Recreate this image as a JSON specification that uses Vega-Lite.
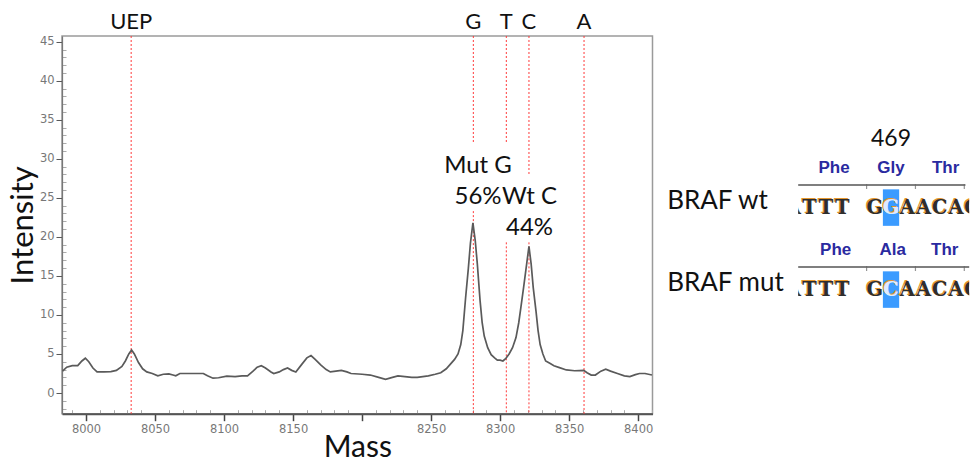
{
  "$schema": "https://vega.github.io/schema/vega-lite/v6.json",
  "background": "white",
  "padding": {"left": 6, "top": 10, "right": 0, "bottom": 0},
  "config": {"view": {"stroke": null}, "font": "Lato"},
  "spacing": 145.2,
  "bounds": "flush",
  "datasets": {
    "trace": [
      {"mass": 7983, "intensity": 2.8}, {"mass": 7986, "intensity": 3.3}, {"mass": 7990, "intensity": 3.5},
      {"mass": 7994, "intensity": 3.5}, {"mass": 7997, "intensity": 4.1}, {"mass": 7999.5, "intensity": 4.45},
      {"mass": 8002, "intensity": 4.0}, {"mass": 8005, "intensity": 3.2}, {"mass": 8008, "intensity": 2.7},
      {"mass": 8013, "intensity": 2.7}, {"mass": 8018, "intensity": 2.75}, {"mass": 8022, "intensity": 2.9},
      {"mass": 8026, "intensity": 3.4}, {"mass": 8028.5, "intensity": 4.1}, {"mass": 8031, "intensity": 5.0},
      {"mass": 8033, "intensity": 5.5}, {"mass": 8035, "intensity": 5.0}, {"mass": 8038, "intensity": 3.9},
      {"mass": 8041, "intensity": 3.1}, {"mass": 8044, "intensity": 2.7}, {"mass": 8048, "intensity": 2.5},
      {"mass": 8052, "intensity": 2.2}, {"mass": 8056, "intensity": 2.4}, {"mass": 8060, "intensity": 2.45},
      {"mass": 8063, "intensity": 2.3}, {"mass": 8065, "intensity": 2.2}, {"mass": 8068, "intensity": 2.5},
      {"mass": 8074, "intensity": 2.5}, {"mass": 8080, "intensity": 2.5}, {"mass": 8085, "intensity": 2.5},
      {"mass": 8088, "intensity": 2.2}, {"mass": 8092, "intensity": 1.9}, {"mass": 8096, "intensity": 1.95},
      {"mass": 8102, "intensity": 2.15}, {"mass": 8108, "intensity": 2.1}, {"mass": 8113, "intensity": 2.2},
      {"mass": 8117, "intensity": 2.2}, {"mass": 8121, "intensity": 2.8}, {"mass": 8124, "intensity": 3.3},
      {"mass": 8127, "intensity": 3.5}, {"mass": 8130, "intensity": 3.2}, {"mass": 8134, "intensity": 2.7},
      {"mass": 8136, "intensity": 2.5}, {"mass": 8140, "intensity": 2.7}, {"mass": 8143, "intensity": 3.0},
      {"mass": 8146, "intensity": 3.2}, {"mass": 8149, "intensity": 2.9}, {"mass": 8152, "intensity": 2.7},
      {"mass": 8156, "intensity": 3.6}, {"mass": 8160, "intensity": 4.5}, {"mass": 8163, "intensity": 4.8},
      {"mass": 8166, "intensity": 4.3}, {"mass": 8170, "intensity": 3.6}, {"mass": 8174, "intensity": 3.0},
      {"mass": 8177, "intensity": 2.7}, {"mass": 8181, "intensity": 2.8}, {"mass": 8185, "intensity": 2.9},
      {"mass": 8189, "intensity": 2.7}, {"mass": 8192, "intensity": 2.5}, {"mass": 8200, "intensity": 2.4},
      {"mass": 8206, "intensity": 2.3}, {"mass": 8212, "intensity": 2.0}, {"mass": 8217, "intensity": 1.75},
      {"mass": 8222, "intensity": 2.0}, {"mass": 8226, "intensity": 2.2}, {"mass": 8231, "intensity": 2.1},
      {"mass": 8236, "intensity": 2.0}, {"mass": 8240, "intensity": 2.0}, {"mass": 8244, "intensity": 2.1},
      {"mass": 8248, "intensity": 2.2}, {"mass": 8253, "intensity": 2.4}, {"mass": 8257, "intensity": 2.6},
      {"mass": 8261, "intensity": 3.1}, {"mass": 8264, "intensity": 3.7}, {"mass": 8267, "intensity": 4.3},
      {"mass": 8269.5, "intensity": 5.0}, {"mass": 8271.5, "intensity": 6.2}, {"mass": 8273, "intensity": 8.0},
      {"mass": 8275, "intensity": 12.2}, {"mass": 8277, "intensity": 16.0}, {"mass": 8278.5, "intensity": 19.2},
      {"mass": 8280.3, "intensity": 21.8}, {"mass": 8282, "intensity": 19.5}, {"mass": 8283.5, "intensity": 16.5},
      {"mass": 8285.5, "intensity": 11.8}, {"mass": 8287, "intensity": 9.0}, {"mass": 8288.5, "intensity": 7.3},
      {"mass": 8291, "intensity": 5.8}, {"mass": 8293.5, "intensity": 4.9}, {"mass": 8296, "intensity": 4.5},
      {"mass": 8298, "intensity": 4.2}, {"mass": 8300, "intensity": 4.2}, {"mass": 8302, "intensity": 4.1},
      {"mass": 8304, "intensity": 4.4}, {"mass": 8306.5, "intensity": 5.0}, {"mass": 8309, "intensity": 5.8},
      {"mass": 8311.5, "intensity": 7.1}, {"mass": 8313.5, "intensity": 9.0}, {"mass": 8315, "intensity": 10.9},
      {"mass": 8317, "intensity": 13.5}, {"mass": 8318.7, "intensity": 15.8}, {"mass": 8320.9, "intensity": 18.8},
      {"mass": 8322.5, "intensity": 16.5}, {"mass": 8324, "intensity": 13.5}, {"mass": 8326, "intensity": 10.5},
      {"mass": 8327.5, "intensity": 8.0}, {"mass": 8329, "intensity": 6.2}, {"mass": 8331, "intensity": 5.0},
      {"mass": 8333, "intensity": 4.1}, {"mass": 8336, "intensity": 3.8}, {"mass": 8339, "intensity": 3.5},
      {"mass": 8343, "intensity": 3.25}, {"mass": 8348, "intensity": 2.95}, {"mass": 8354, "intensity": 2.85},
      {"mass": 8360.6, "intensity": 2.9}, {"mass": 8363, "intensity": 2.6}, {"mass": 8366, "intensity": 2.3},
      {"mass": 8369, "intensity": 2.3}, {"mass": 8373, "intensity": 2.8}, {"mass": 8376.5, "intensity": 3.05},
      {"mass": 8380, "intensity": 2.8}, {"mass": 8385, "intensity": 2.5}, {"mass": 8390, "intensity": 2.2},
      {"mass": 8394, "intensity": 2.1}, {"mass": 8398, "intensity": 2.35}, {"mass": 8401, "intensity": 2.5},
      {"mass": 8405, "intensity": 2.5}, {"mass": 8410, "intensity": 2.3}
    ],
    "markerSegments": [
      {"mass": 8032.7, "top": 45.73, "bottom": -2.65},
      {"mass": 8280.6, "top": 45.73, "bottom": 31.9},
      {"mass": 8280.6, "top": 23.3, "bottom": -2.65},
      {"mass": 8304.5, "top": 45.73, "bottom": 31.9},
      {"mass": 8304.5, "top": 19.3, "bottom": -2.65},
      {"mass": 8320.9, "top": 45.73, "bottom": 28.0},
      {"mass": 8320.9, "top": 19.3, "bottom": -2.65},
      {"mass": 8360.8, "top": 45.73, "bottom": -2.65}
    ],
    "markerNames": [
      {"mass": 8032.7, "name": "UEP"},
      {"mass": 8280.6, "name": "G"},
      {"mass": 8304.5, "name": "T"},
      {"mass": 8320.9, "name": "C"},
      {"mass": 8360.8, "name": "A"}
    ],
    "peakNotes": [
      {"mass": 8284.0, "intensity": 28.24, "note": ["Mut G", "56%"]},
      {"mass": 8321.3, "intensity": 24.27, "note": ["Wt C", "44%"]}
    ],
    "codons": [
      {"row": "wt", "center": 2.5, "aa": "Phe", "number": ""},
      {"row": "wt", "center": 6.0, "aa": "Gly", "number": "469"},
      {"row": "wt", "center": 9.35, "aa": "Thr", "number": ""},
      {"row": "mut", "center": 2.6, "aa": "Phe", "number": ""},
      {"row": "mut", "center": 6.1, "aa": "Ala", "number": ""},
      {"row": "mut", "center": 9.3, "aa": "Thr", "number": ""}
    ],
    "tracks": [
      {"row": "wt", "name": "BRAF wt", "from": 0.3, "to": 10.57},
      {"row": "mut", "name": "BRAF mut", "from": 0.3, "to": 10.8}
    ],
    "boundaries": [
      {"row": "wt", "pos": 4.5}, {"row": "wt", "pos": 7.5}, {"row": "wt", "pos": 10.5},
      {"row": "mut", "pos": 4.5}, {"row": "mut", "pos": 7.5}, {"row": "mut", "pos": 10.5}
    ],
    "variant": [
      {"row": "wt", "from": 5.5, "to": 6.5},
      {"row": "mut", "from": 5.5, "to": 6.5}
    ],
    "bases": [
      {"row": "wt", "pos": 0, "base": "A", "hl": false},
      {"row": "wt", "pos": 1, "base": "T", "hl": false},
      {"row": "wt", "pos": 2, "base": "T", "hl": false},
      {"row": "wt", "pos": 3, "base": "T", "hl": false},
      {"row": "wt", "pos": 5, "base": "G", "hl": false},
      {"row": "wt", "pos": 6, "base": "G", "hl": true},
      {"row": "wt", "pos": 7, "base": "A", "hl": false},
      {"row": "wt", "pos": 8, "base": "A", "hl": false},
      {"row": "wt", "pos": 9, "base": "C", "hl": false},
      {"row": "wt", "pos": 10, "base": "A", "hl": false},
      {"row": "wt", "pos": 11, "base": "G", "hl": false},
      {"row": "mut", "pos": 0, "base": "A", "hl": false},
      {"row": "mut", "pos": 1, "base": "T", "hl": false},
      {"row": "mut", "pos": 2, "base": "T", "hl": false},
      {"row": "mut", "pos": 3, "base": "T", "hl": false},
      {"row": "mut", "pos": 5, "base": "G", "hl": false},
      {"row": "mut", "pos": 6, "base": "C", "hl": true},
      {"row": "mut", "pos": 7, "base": "A", "hl": false},
      {"row": "mut", "pos": 8, "base": "A", "hl": false},
      {"row": "mut", "pos": 9, "base": "C", "hl": false},
      {"row": "mut", "pos": 10, "base": "A", "hl": false},
      {"row": "mut", "pos": 11, "base": "G", "hl": false}
    ]
  },
  "hconcat": [
    {
      "width": 590.5,
      "height": 377.7,
      "view": {"stroke": "#9a9a9a", "strokeWidth": 1.5},
      "layer": [
        {
          "data": {"name": "markerSegments"},
          "mark": {"type": "rule", "color": "#ff3838", "strokeDash": [2, 2], "strokeWidth": 1},
          "encoding": {
            "x": {
              "field": "mass", "type": "quantitative", "title": "Mass",
              "scale": {"domain": [7982.6, 8410.4], "nice": false, "zero": false},
              "axis": {
                "values": [7990, 8000, 8010, 8020, 8030, 8040, 8050, 8060, 8070, 8080, 8090, 8100, 8110, 8120, 8130, 8140, 8150, 8160, 8170, 8180, 8190, 8200, 8210, 8220, 8230, 8240, 8250, 8260, 8270, 8280, 8290, 8300, 8310, 8320, 8330, 8340, 8350, 8360, 8370, 8380, 8390, 8400, 8410],
                "tickCount": 1000,
                "labelExpr": "datum.value % 50 === 0 && datum.value !== 8200 ? datum.value : ''",
                "tickSize": {"condition": {"test": "datum.value % 50 === 0", "value": 7}, "value": -4},
                "tickColor": {"condition": {"test": "datum.value % 50 === 0", "value": "#444"}, "value": "#aaa"},
                "tickWidth": {"condition": {"test": "datum.value % 50 === 0", "value": 1.5}, "value": 1},
                "grid": false,
                "domainColor": "#555", "domainWidth": 2,
                "labelFont": "DejaVu Sans", "labelFontSize": 11.5, "labelColor": "#777",
                "labelPadding": 3, "labelOverlap": false, "labelFlush": false,
                "titleFont": "Lato", "titleFontSize": 30, "titleFontWeight": "normal",
                "titleColor": "#111", "titlePadding": -3
              }
            },
            "y": {
              "field": "top", "type": "quantitative", "title": "Intensity",
              "scale": {"domain": [-2.65, 45.73], "nice": false, "zero": false},
              "axis": {
                "values": [-2, -1, 0, 1, 2, 3, 4, 5, 6, 7, 8, 9, 10, 11, 12, 13, 14, 15, 16, 17, 18, 19, 20, 21, 22, 23, 24, 25, 26, 27, 28, 29, 30, 31, 32, 33, 34, 35, 36, 37, 38, 39, 40, 41, 42, 43, 44, 45],
                "tickCount": 1000,
                "labelExpr": "datum.value % 5 === 0 ? datum.value : ''",
                "tickSize": {"condition": {"test": "datum.value % 5 === 0", "value": 6}, "value": -4},
                "tickColor": {"condition": {"test": "datum.value % 5 === 0", "value": "#555"}, "value": "#aaa"},
                "grid": false,
                "domainColor": "#777", "domainWidth": 1.2,
                "labelFont": "DejaVu Sans", "labelFontSize": 11.5, "labelColor": "#777",
                "labelPadding": 2, "labelOverlap": false, "labelFlush": false,
                "titleFont": "Lato", "titleFontSize": 31, "titleFontWeight": "normal",
                "titleColor": "#111", "titlePadding": 0
              }
            },
            "y2": {"field": "bottom"}
          }
        },
        {
          "data": {"name": "trace"},
          "mark": {"type": "line", "color": "#5a5a5a", "strokeWidth": 1.7},
          "encoding": {
            "x": {"field": "mass", "type": "quantitative"},
            "y": {"field": "intensity", "type": "quantitative"}
          }
        },
        {
          "data": {"name": "markerNames"},
          "mark": {"type": "text", "font": "Lato", "fontSize": 22, "color": "#111", "baseline": "alphabetic", "dy": -7},
          "encoding": {
            "x": {"field": "mass", "type": "quantitative"},
            "y": {"datum": 45.73, "type": "quantitative"},
            "text": {"field": "name"}
          }
        },
        {
          "data": {"name": "peakNotes"},
          "mark": {"type": "text", "font": "Lato", "fontSize": 24, "color": "#111", "baseline": "alphabetic", "lineHeight": 31},
          "encoding": {
            "x": {"field": "mass", "type": "quantitative"},
            "y": {"field": "intensity", "type": "quantitative"},
            "text": {"field": "note"}
          }
        }
      ]
    },
    {
      "width": 171,
      "height": 377.7,
      "encoding": {
        "y": {
          "field": "row", "type": "nominal",
          "scale": {"type": "point", "domain": ["wt", "mut"], "range": [149, 231], "padding": 0},
          "axis": null
        }
      },
      "layer": [
        {
          "data": {"name": "variant"},
          "mark": {"type": "bar", "color": "#3b9bff", "size": 36.5, "yOffset": 22.6},
          "encoding": {
            "x": {"field": "from", "type": "quantitative", "scale": {"domain": [0.3, 10.8], "nice": false, "zero": false}, "axis": null},
            "x2": {"field": "to"}
          }
        },
        {
          "data": {"name": "tracks"},
          "mark": {"type": "rule", "color": "#555", "strokeWidth": 1.6},
          "encoding": {
            "x": {"field": "from", "type": "quantitative"},
            "x2": {"field": "to"}
          }
        },
        {
          "data": {"name": "boundaries"},
          "mark": {"type": "tick", "orient": "vertical", "color": "#666", "size": 5, "thickness": 1.2, "yOffset": 1.5},
          "encoding": {
            "x": {"field": "pos", "type": "quantitative"}
          }
        },
        {
          "data": {"name": "codons"},
          "mark": {"type": "text", "font": "Liberation Sans", "fontSize": 17, "fontWeight": "bold", "color": "#2a2aa0", "baseline": "alphabetic", "dy": -12},
          "encoding": {
            "x": {"field": "center", "type": "quantitative"},
            "text": {"field": "aa"}
          }
        },
        {
          "data": {"name": "codons"},
          "mark": {"type": "text", "font": "Lato", "fontSize": 23, "color": "#111", "baseline": "alphabetic", "dy": -39},
          "encoding": {
            "x": {"field": "center", "type": "quantitative"},
            "text": {"field": "number"}
          }
        },
        {
          "data": {"name": "bases"},
          "mark": {"type": "text", "font": "DejaVu Serif", "fontSize": 19.5, "fontWeight": "bold", "color": "#e3962e", "baseline": "alphabetic", "dy": 28.5, "dx": -1.2, "clip": true},
          "encoding": {
            "x": {"field": "pos", "type": "quantitative"},
            "text": {"field": "base"}
          }
        },
        {
          "data": {"name": "bases"},
          "mark": {"type": "text", "font": "DejaVu Serif", "fontSize": 19.5, "fontWeight": "bold", "baseline": "alphabetic", "dy": 29, "clip": true},
          "encoding": {
            "x": {"field": "pos", "type": "quantitative"},
            "text": {"field": "base"},
            "color": {"condition": {"test": "datum.hl", "value": "#dcecff"}, "value": "#2e2e2e"}
          }
        },
        {
          "data": {"name": "tracks"},
          "mark": {"type": "text", "font": "Lato", "fontSize": 26, "color": "#111", "align": "left", "baseline": "alphabetic", "dx": -131, "dy": 24},
          "encoding": {
            "x": {"datum": 0.3, "type": "quantitative"},
            "text": {"field": "name"}
          }
        }
      ]
    }
  ]
}
